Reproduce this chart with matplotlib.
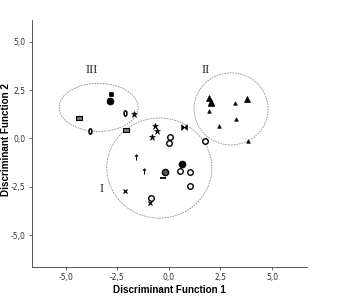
import matplotlib
matplotlib.use("Agg")
import matplotlib.pyplot as plt
from matplotlib.patches import Ellipse

# ---------------------------------------------------------------------------
# Data: discriminant scores, one list per group (x, y, marker kind)
# ---------------------------------------------------------------------------
g1_x = [-0.68, -0.57, -0.81, 0.73, 0.08, 0.00, 1.75, -1.57, -1.20, 0.62,
        0.53, 1.05, 1.02, -0.84, -0.19, -0.27, -2.13, -0.92]
g1_y = [0.66, 0.40, 0.06, 0.58, 0.06, -0.25, -0.13, -0.97, -1.68, -1.34,
        -1.67, -1.72, -2.46, -3.07, -1.75, -2.06, -2.70, -3.36]
g1_kind = ["star", "star", "star", "bowtie", "circ_open", "circ_open", "circ_open",
           "arrow", "arrow", "circ_fill", "circ_open", "circ_open", "circ_open",
           "circ_open", "circ_grey", "dash", "xmark", "xmark"]

g2_x = [1.94, 2.04, 2.07, 3.80, 3.23, 1.94, 3.25, 2.44, 3.82]
g2_y = [2.11, 1.88, 1.83, 2.05, 1.82, 1.42, 1.01, 0.65, -0.13]
g2_kind = ["tri_big", "tri_big", "tri_big", "tri_big",
           "tri_small", "tri_small", "tri_small", "tri_small", "tri_small"]

g3_x = [-2.80, -2.87, -2.13, -3.83, -1.68, -4.35, -2.08]
g3_y = [2.29, 1.96, 1.31, 0.39, 1.25, 1.08, 0.44]
g3_kind = ["sq_fill", "circ_fill", "zero", "zero", "star", "rect", "rect"]

# group outlines: centre x, centre y, width, height, label, label x, label y
ell_cx = [-0.46, 3.02, -3.40]
ell_cy = [-1.53, 1.53, 1.61]
ell_w = [5.09, 3.59, 3.83]
ell_h = [5.18, 3.73, 2.49]
grp_labels = ["I", "II", "III"]
lab_x = [-3.25, 1.79, -3.73]
lab_y = [-2.62, 3.55, 3.55]

ticks = [-5.0, -2.5, 0.0, 2.5, 5.0]
tick_labels = ["-5,0", "-2,5", "0,0", "2,5", "5,0"]

# marker styles
bowtie = [(-1, -1), (1, 1), (1, -1), (-1, 1), (-1, -1)]
rect = [(-1, -0.55), (1, -0.55), (1, 0.55), (-1, 0.55), (-1, -0.55)]
narrow = [(0.55 * c, s) for c, s in
          [(1, 0), (0.7, 0.7), (0, 1), (-0.7, 0.7), (-1, 0), (-0.7, -0.7), (0, -1), (0.7, -0.7), (1, 0)]]
styles = {
    "star": dict(marker="*", ms=4.5, mfc="black", mec="black", mew=0.4),
    "bowtie": dict(marker=bowtie, ms=4, mfc="black", mec="black", mew=0.5),
    "circ_open": dict(marker="o", ms=4, mfc="white", mec="black", mew=1.0),
    "circ_fill": dict(marker="o", ms=5, mfc="black", mec="black", mew=0.5),
    "circ_grey": dict(marker="o", ms=4.5, mfc="#555555", mec="black", mew=1.0),
    "arrow": dict(marker="$\u2191$", ms=4, mfc="black", mec="black", mew=0.3),
    "dash": dict(marker="_", ms=4, mfc="black", mec="black", mew=1.3),
    "xmark": dict(marker="x", ms=3, mfc="black", mec="black", mew=0.9),
    "tri_big": dict(marker="^", ms=4.5, mfc="black", mec="black", mew=0.5),
    "tri_small": dict(marker="^", ms=2.8, mfc="black", mec="black", mew=0.3),
    "sq_fill": dict(marker="s", ms=3.5, mfc="black", mec="black", mew=0.5),
    "zero": dict(marker=narrow, ms=4, mfc="white", mec="black", mew=1.1),
    "rect": dict(marker=rect, ms=5, mfc="#777777", mec="black", mew=0.8),
}

fig = plt.figure(figsize=(3.39, 3.00), dpi=100)
ax = fig.add_axes([0.0944, 0.11, 0.8112, 0.8233])

for cx, cy, w, h in zip(ell_cx, ell_cy, ell_w, ell_h):
    ax.add_patch(Ellipse((cx, cy), w, h, fill=False, edgecolor="#8c8c8c",
                         linewidth=0.6, linestyle=(0, (2, 1.2))))

for xs, ys, kinds in [(g1_x, g1_y, g1_kind), (g2_x, g2_y, g2_kind), (g3_x, g3_y, g3_kind)]:
    for x, y, k in zip(xs, ys, kinds):
        ax.plot(x, y, linestyle="none", **styles[k])

for lab, lx, ly in zip(grp_labels, lab_x, lab_y):
    ax.text(lx, ly, lab, family="Liberation Serif", fontsize=9,
            ha="center", va="center", color="#222222")

ax.set_xlim(-6.63, 6.7)
ax.set_ylim(-6.65, 6.13)
ax.set_xticks(ticks)
ax.set_xticklabels(tick_labels)
ax.set_yticks(ticks)
ax.set_yticklabels(tick_labels)
ax.tick_params(length=2.5, width=0.6, color="#555555", labelsize=5.5,
               labelcolor="#333333", pad=2)
for s in ["top", "right"]:
    ax.spines[s].set_visible(False)
for s in ["left", "bottom"]:
    ax.spines[s].set_linewidth(0.7)
    ax.spines[s].set_color("#555555")

# axis titles placed in figure coordinates
fig.text(169.5 / 339, 1 - 290 / 300, "Discriminant Function 1", family="Liberation Sans",
         fontweight="bold", fontsize=7.1, ha="center", va="center")
fig.text(6.5 / 339, 1 - 140 / 300, "Discriminant Function 2", family="Liberation Sans",
         fontweight="bold", fontsize=7.1, ha="center", va="center", rotation=90)

fig.savefig("out.png", dpi=100)
